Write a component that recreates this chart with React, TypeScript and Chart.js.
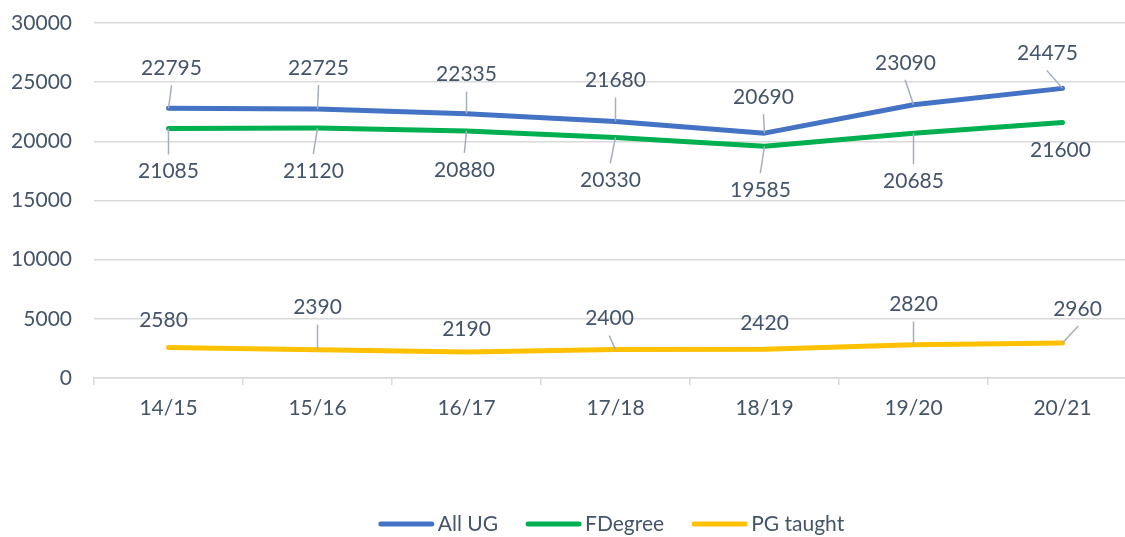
import React, { useEffect, useRef } from "react";
import { Chart, registerables } from "chart.js";

Chart.register(...registerables);

const categories = ["14/15", "15/16", "16/17", "17/18", "18/19", "19/20", "20/21"];
const allUG = [22795, 22725, 22335, 21680, 20690, 23090, 24475];
const fDegree = [21085, 21120, 20880, 20330, 19585, 20685, 21600];
const pgTaught = [2580, 2390, 2190, 2400, 2420, 2820, 2960];
const seriesNames = ["All UG", "FDegree", "PG taught"];
const seriesColors = ["#4472C4", "#00B050", "#FFC000"];
const yMin = 0;
const yMax = 30000;
const yStep = 5000;

// label offsets (dx, dy) from each point, per series
const labelOffsets: number[][][] = [
  [[3, -40], [1, -41], [0, -39], [0, -41], [-1, -36], [-8, -42], [-15, -35]],
  [[0, 43], [-4, 43], [-2, 39], [-5, 43], [-4, 44], [0, 48], [-2, 28]],
  [[-5, -27], [0, -42], [0, -23], [-6, -31], [0, -26], [0, -40], [15, -34]],
];

const TEXT = "#44546A";
const FONT = "Lato, 'Open Sans', sans-serif";
const FSIZE = 21;

const labelPlugin = {
  id: "dataLabels",
  afterDatasetsDraw(chart: any) {
    const ctx = chart.ctx;
    ctx.save();
    ctx.font = `${FSIZE}px ${FONT}`;
    ctx.fillStyle = TEXT;
    ctx.textAlign = "center";
    ctx.textBaseline = "middle";
    chart.data.datasets.forEach((ds: any, di: number) => {
      const meta = chart.getDatasetMeta(di);
      meta.data.forEach((pt: any, i: number) => {
        const [dx, dy] = labelOffsets[di][i];
        const lx = pt.x + dx;
        const ly = pt.y + dy;
        const dist = Math.sqrt(dx * dx + dy * dy);
        if (dist > 30) {
          const sign = dy < 0 ? 1 : -1;
          ctx.beginPath();
          ctx.strokeStyle = "#A6AEBB";
          ctx.lineWidth = 1.5;
          ctx.moveTo(lx + dx * 0.05, ly + sign * 17);
          ctx.lineTo(pt.x, pt.y);
          ctx.stroke();
        }
        ctx.fillText(String(ds.data[i]), lx, ly);
      });
    });
    ctx.restore();
  },
};

const legendPlugin = {
  id: "customLegend",
  afterDraw(chart: any) {
    const ctx = chart.ctx;
    const area = chart.chartArea;
    ctx.save();
    ctx.font = `${FSIZE}px ${FONT}`;
    ctx.textBaseline = "middle";
    ctx.textAlign = "left";
    const lineW = 55;
    const gapText = 4;
    const gapItem = 28;
    const widths = seriesNames.map((n) => lineW + gapText + ctx.measureText(n).width);
    const total = widths.reduce((a, b) => a + b, 0) + gapItem * (seriesNames.length - 1);
    let x = (area.left + area.right) / 2 - total / 2 - 4;
    const y = 524;
    seriesNames.forEach((n, i) => {
      ctx.beginPath();
      ctx.strokeStyle = seriesColors[i];
      ctx.lineWidth = 5;
      ctx.lineCap = "round";
      ctx.moveTo(x + 2, y);
      ctx.lineTo(x + lineW - 2, y);
      ctx.stroke();
      ctx.fillStyle = TEXT;
      ctx.fillText(n, x + lineW + gapText, y);
      x += widths[i] + gapItem;
    });
    ctx.restore();
  },
};

export default function App() {
  const ref = useRef<HTMLCanvasElement>(null);
  useEffect(() => {
    if (!ref.current) return;
    const series = [allUG, fDegree, pgTaught];
    const chart = new Chart(ref.current, {
      type: "line",
      data: {
        labels: categories,
        datasets: series.map((d, i) => ({
          label: seriesNames[i],
          data: d,
          borderColor: seriesColors[i],
          backgroundColor: seriesColors[i],
          borderWidth: 5,
          pointRadius: 0,
          tension: 0,
          borderCapStyle: "round",
          borderJoinStyle: "round",
        })),
      },
      options: {
        responsive: false,
        animation: false,
        devicePixelRatio: 1,
        layout: { padding: { top: 23, bottom: 99, left: 0, right: 8 } },
        plugins: {
          legend: { display: false },
          tooltip: { enabled: false },
        },
        scales: {
          x: {
            offset: true,
            grid: {
              display: true,
              offset: true,
              drawOnChartArea: false,
              drawTicks: true,
              tickLength: 7,
              color: "#D9D9D9",
              lineWidth: 1.5,
            },
            border: { display: true, color: "#D9D9D9", width: 1.5 },
            ticks: {
              color: TEXT,
              font: { family: FONT, size: FSIZE },
              padding: 11,
              maxRotation: 0,
            },
            afterFit: (s: any) => {
              s.height = 60;
              s.paddingLeft = 0;
              s.paddingRight = 0;
            },
          },
          y: {
            min: yMin,
            max: yMax,
            grid: { color: "#D9D9D9", lineWidth: 1.5, drawTicks: false },
            border: { display: false },
            ticks: {
              stepSize: yStep,
              color: TEXT,
              font: { family: FONT, size: FSIZE },
              padding: 22,
              callback: (v: any) => String(v),
            },
            afterFit: (s: any) => {
              s.width = 94;
              s.paddingTop = 12;
              s.paddingBottom = 12;
            },
          },
        },
      },
      plugins: [labelPlugin, legendPlugin],
    } as any);
    return () => chart.destroy();
  }, []);
  return (
    <div
      style={{
        position: "fixed",
        left: 0,
        top: 0,
        width: 1125,
        height: 537,
        overflow: "hidden",
        background: "#fff",
      }}
    >
      <canvas ref={ref} width={1145} height={537} style={{ display: "block" }} />
    </div>
  );
}
